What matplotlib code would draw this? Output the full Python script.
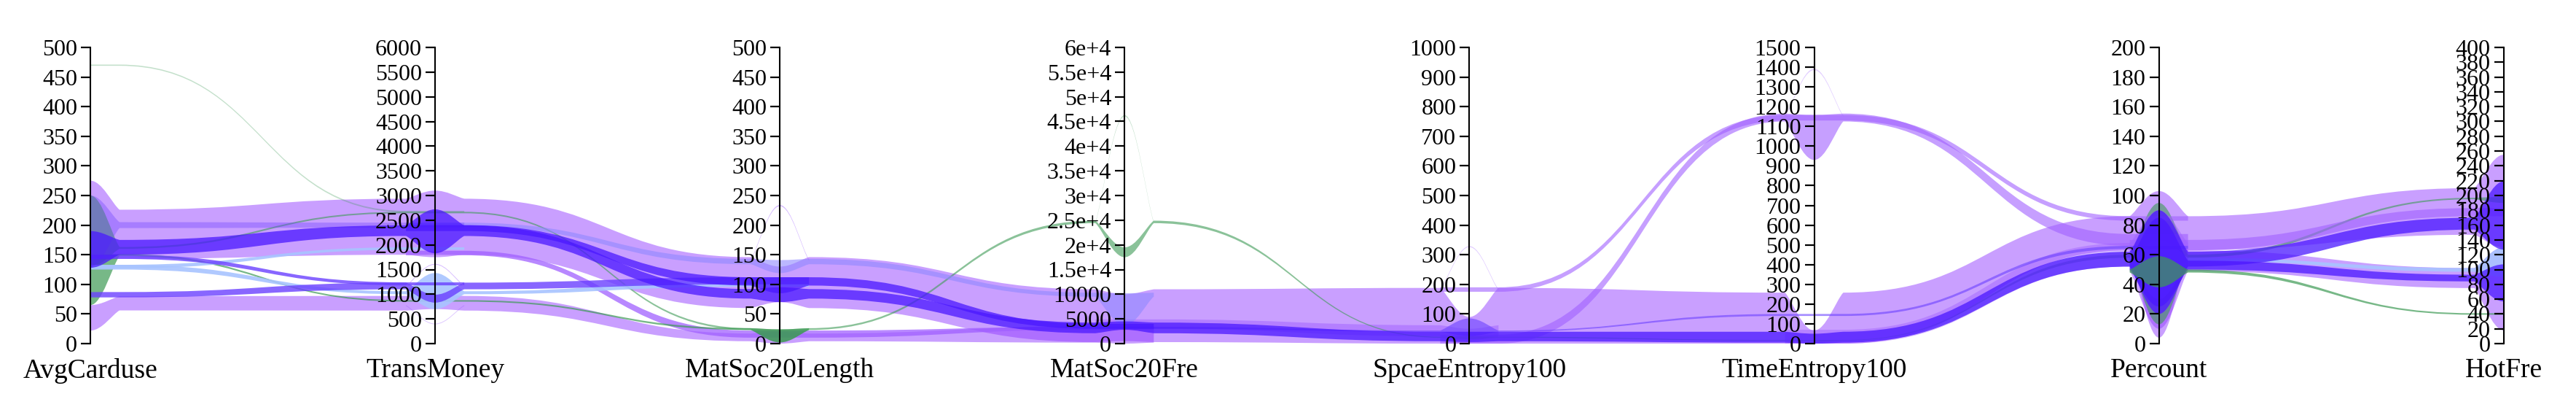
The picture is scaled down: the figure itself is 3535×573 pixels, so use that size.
import numpy as np
import matplotlib
matplotlib.use("Agg")
import matplotlib.pyplot as plt
from matplotlib.path import Path
from matplotlib.patches import PathPatch

W, H = 3535, 573
AXIS_LEFT, AXIS_STEP = 124, 473.1
AXIS_TOP, AXIS_BOTTOM = 65, 471
FLARE = 40 / 473.1  # ribbon leaves the axis glyph this far from the axis
n = np.nan

DIMENSIONS = ["AvgCarduse", "TransMoney", "MatSoc20Length", "MatSoc20Fre",
              "SpcaeEntropy100", "TimeEntropy100", "Percount", "HotFre"]
AXIS_MAX = [500, 6000, 500, 60000, 1000, 1500, 200, 400]
AXIS_TICKS = [
    list(range(0, 501, 50)),
    list(range(0, 6001, 500)),
    list(range(0, 501, 50)),
    list(range(0, 60001, 5000)),
    list(range(0, 1001, 100)),
    list(range(0, 1501, 100)),
    list(range(0, 201, 20)),
    list(range(0, 401, 20)),
]
FRE_LABELS = ["0", "5000", "10000", "1.5e+4", "2e+4", "2.5e+4", "3e+4", "3.5e+4",
              "4e+4", "4.5e+4", "5e+4", "5.5e+4", "6e+4"]

# each ribbon: flow low, flow high, glyph low, glyph high (one value per axis)
PURPLE = "#9440ff"
MID = "#a060ff"
DARK = "#4a18ff"
VIOLET = "#6a40ff"
BLUE = "#a8c4ff"
LILAC = "#8f88ff"
GREEN = "#3d9a55"

top_lo = [143, 1800, 60, 300, 0, 0, 63, 147]
top_hi = [226, 2935, 146, 11000, 188, 258, 86, 210]
top_alo = [140, 1750, 70, 500, 0, 0, 4, 130]
top_ahi = [275, 3100, 130, 10000, 90, 66, 103, 255]

split_lo = [n, n, n, n, n, n, 49, 75]
split_hi = [n, n, n, n, n, n, 63, 102]
split_alo = [n, n, n, n, n, n, 10, 18]
split_ahi = [n, n, n, n, n, n, 90, 130]

low_lo = [56, 669, 4, 200, n, n, n, n]
low_hi = [80, 966, 17, 3500, n, n, n, n]
low_alo = [22, 700, 0, 0, n, n, n, n]
low_ahi = [65, 1000, 20, 3000, n, n, n, n]

slip_lo = [n, 1790, 10, 2800, n, n, n, n]
slip_hi = [n, 1880, 22, 3400, n, n, n, n]
slip_alo = [n, 1800, 10, 2800, n, n, n, n]
slip_ahi = [n, 1880, 22, 3400, n, n, n, n]

sat_lo = [n, n, n, 3000, 25, n, n, n]
sat_hi = [n, n, n, 4900, 62, n, n, n]
sat_alo = [n, n, n, 3000, 10, n, n, n]
sat_ahi = [n, n, n, 4900, 50, n, n, n]

up1_lo = [n, n, n, n, 175, 1130, 83, n]
up1_hi = [n, n, n, n, 190, 1158, 86, n]
up1_alo = [n, n, n, n, 175, 1130, 83, n]
up1_ahi = [n, n, n, n, 190, 1158, 86, n]

up2_lo = [n, n, n, n, 0, 1125, 66, n]
up2_hi = [n, n, n, n, 30, 1165, 74, n]
up2_alo = [n, n, n, n, 0, 930, 66, n]
up2_ahi = [n, n, n, n, 30, 1158, 74, n]

rise_lo = [n, n, n, n, n, 0, 52, n]
rise_hi = [n, n, n, n, n, 70, 68, n]
rise_alo = [n, n, n, n, n, 0, 20, n]
rise_ahi = [n, n, n, n, n, 70, 90, n]

right_lo = [n, n, n, n, n, n, 63, 172]
right_hi = [n, n, n, n, n, n, 70, 183]
right_alo = [n, n, n, n, n, n, 63, 172]
right_ahi = [n, n, n, n, n, n, 70, 183]

strip_lo = [195, 2350, n, n, n, n, n, n]
strip_hi = [205, 2450, n, n, n, n, n, n]
strip_alo = [130, 2350, n, n, n, n, n, n]
strip_ahi = [250, 2450, n, n, n, n, n, n]

ga_lo = [469, 2660, n, n, n, n, n, n]
ga_hi = [471, 2690, n, n, n, n, n, n]

gd_lo = [160, 2640, 23, 24400, 20, 15, 58, 195]
gd_hi = [163, 2670, 26, 24900, 23, 18, 60, 197]
gd_alo = [130, 2640, 2, 17500, 15, 10, 13, 190]
gd_ahi = [250, 2670, 24, 19500, 25, 18, 95, 198]

gb_lo = [148, 850, 23, n, n, n, n, n]
gb_hi = [151, 880, 26, n, n, n, n, n]
gb_alo = [65, 850, 2, n, n, n, n, n]
gb_ahi = [150, 880, 24, n, n, n, n, n]

gc_lo = [n, n, n, n, n, n, 48, 39]
gc_hi = [n, n, n, n, n, n, 50, 41]
gc_alo = [n, n, n, n, n, n, 38, 39]
gc_ahi = [n, n, n, n, n, n, 59, 41]

ba_lo = [125, 1000, 96, n, n, n, n, n]
ba_hi = [133, 1060, 106, n, n, n, n, n]
ba_alo = [125, 700, 96, n, n, n, n, n]
ba_ahi = [133, 1430, 106, n, n, n, n, n]

bb_lo = [127, 1900, n, n, n, n, n, n]
bb_hi = [133, 1950, n, n, n, n, n, n]

bc_lo = [n, 2370, 134, 9500, n, n, n, n]
bc_hi = [n, 2450, 143, 10300, n, n, n, n]
bc_alo = [n, 2370, 119, 3700, n, n, n, n]
bc_ahi = [n, 2450, 141, 10200, n, n, n, n]

bd_lo = [n, n, n, 3000, 40, 140, 64, n]
bd_hi = [n, n, n, 3400, 44, 150, 66, n]
bd_alo = [n, n, n, 3000, 26, 140, 64, n]
bd_ahi = [n, n, n, 3400, 85, 150, 66, n]

be_lo = [n, n, n, n, n, n, 56, 97]
be_hi = [n, n, n, n, n, n, 58, 102]
be_alo = [n, n, n, n, n, n, 30, 90]
be_ahi = [n, n, n, n, n, n, 70, 130]

da_lo = [150, 2180, 76, 2100, 8, 5, 52, 154]
da_hi = [175, 2395, 92, 4260, 40, 60, 62, 170]
da_alo = [128, 1830, 70, 2800, 5, 0, 20, 127]
da_ahi = [190, 2720, 95, 4500, 40, 50, 90, 219]

db_lo = [n, 2280, 98, 3000, n, n, n, n]
db_hi = [n, 2400, 112, 4000, n, n, n, n]
db_alo = [n, 2280, 85, 3000, n, n, n, n]
db_ahi = [n, 2400, 112, 4000, n, n, n, n]

dc_lo = [n, n, n, n, n, n, 50, 84]
dc_hi = [n, n, n, n, n, n, 56, 93]
dc_alo = [n, n, n, n, n, n, 25, 57]
dc_ahi = [n, n, n, n, n, n, 85, 107]

dd_lo = [78, 1100, 100, n, n, n, n, n]
dd_hi = [87, 1235, 112, n, n, n, n, n]
dd_alo = [78, 830, 100, n, n, n, n, n]
dd_ahi = [87, 990, 112, n, n, n, n, n]

de_lo = [143, 1180, n, n, n, n, n, n]
de_hi = [150, 1240, n, n, n, n, n, n]

# thin spikes where one record pokes out at an axis
sp_len = ([n, n, 140, n, n, n, n, n], [n, n, 142, n, n, n, n, n], [n, n, 232, n, n, n, n, n], [n, n, 234, n, n, n, n, n])
sp_fre = ([n, n, n, 24500, n, n, n, n], [n, n, n, 24700, n, n, n, n], [n, n, n, 46000, n, n, n, n], [n, n, n, 46300, n, n, n, n])
sp_spc = ([n, n, n, n, 180, n, n, n], [n, n, n, n, 184, n, n, n], [n, n, n, n, 326, n, n, n], [n, n, n, n, 329, n, n, n])
sp_time = ([n, n, n, n, n, 1150, n, n], [n, n, n, n, n, 1156, n, n], [n, n, n, n, n, 1385, n, n], [n, n, n, n, n, 1392, n, n])
sp_tr1 = ([n, 1160, n, n, n, n, n, n], [n, 1180, n, n, n, n, n, n], [n, 1600, n, n, n, n, n, n], [n, 1615, n, n, n, n, n, n])
sp_tr2 = ([n, 760, n, n, n, n, n, n], [n, 780, n, n, n, n, n, n], [n, 390, n, n, n, n, n, n], [n, 405, n, n, n, n, n, n])

RIBBONS = [
    (top_lo, top_hi, top_alo, top_ahi, PURPLE, 0.5),
    (split_lo, split_hi, split_alo, split_ahi, PURPLE, 0.5),
    (low_lo, low_hi, low_alo, low_ahi, PURPLE, 0.5),
    (slip_lo, slip_hi, slip_alo, slip_ahi, MID, 0.75),
    (sat_lo, sat_hi, sat_alo, sat_ahi, MID, 0.5),
    (ga_lo, ga_hi, ga_lo, ga_hi, GREEN, 0.3),
    (gd_lo, gd_hi, gd_alo, gd_ahi, GREEN, 0.6),
    (gb_lo, gb_hi, gb_alo, gb_ahi, GREEN, 0.7),
    (ba_lo, ba_hi, ba_alo, ba_ahi, BLUE, 0.9),
    (bb_lo, bb_hi, bb_lo, bb_hi, BLUE, 0.9),
    (be_lo, be_hi, be_alo, be_ahi, BLUE, 0.9),
    (bc_lo, bc_hi, bc_alo, bc_ahi, LILAC, 0.6),
    (strip_lo, strip_hi, strip_alo, strip_ahi, VIOLET, 0.35),
    (up1_lo, up1_hi, up1_alo, up1_ahi, MID, 0.6),
    (up2_lo, up2_hi, up2_alo, up2_ahi, MID, 0.6),
    (rise_lo, rise_hi, rise_alo, rise_ahi, MID, 0.45),
    (right_lo, right_hi, right_alo, right_ahi, MID, 0.6),
    (bd_lo, bd_hi, bd_alo, bd_ahi, VIOLET, 0.6),
    (dd_lo, dd_hi, dd_alo, dd_ahi, VIOLET, 0.8),
    (de_lo, de_hi, de_lo, de_hi, VIOLET, 0.8),
    (da_lo, da_hi, da_alo, da_ahi, DARK, 0.75),
    (db_lo, db_hi, db_alo, db_ahi, DARK, 0.75),
    (dc_lo, dc_hi, dc_alo, dc_ahi, DARK, 0.75),
    (gc_lo, gc_hi, gc_alo, gc_ahi, GREEN, 0.7),  # sits on top of the Percount lens
    (*sp_len, MID, 0.45),
    (*sp_fre, GREEN, 0.3),
    (*sp_spc, MID, 0.35),
    (*sp_time, MID, 0.3),
    (*sp_tr1, MID, 0.45),
    (*sp_tr2, MID, 0.35),
]


def edge_knots(flow, glyph):
    """One ribbon edge as (x, y) knots: flow end, axis glyph, flow start, ..."""
    knots = []
    for i, (f, g) in enumerate(zip(flow, glyph)):
        if np.isnan(f):
            continue
        y_f, y_g = f / AXIS_MAX[i], g / AXIS_MAX[i]
        if i > 0:
            knots.append((i - FLARE, y_f))
        knots.append((i, y_g))
        if i < len(flow) - 1:
            knots.append((i + FLARE, y_f))
    return knots


def add_curves(knots, verts, codes):
    for (x0, y0), (x1, y1) in zip(knots[:-1], knots[1:]):
        if x0 == round(x0):  # leaving an axis: round lens shape
            c0 = (x0 + (x1 - x0) * 0.4, y0)
            c1 = (x0 + (x1 - x0) * 0.75, y1 + (y0 - y1) * 0.2)
        elif x1 == round(x1):  # coming into an axis
            c0 = (x1 + (x0 - x1) * 0.75, y0 + (y1 - y0) * 0.2)
            c1 = (x1 + (x0 - x1) * 0.4, y1)
        else:
            mid = (x0 + x1) / 2
            c0, c1 = (mid, y0), (mid, y1)
        verts += [c0, c1, (x1, y1)]
        codes += [Path.CURVE4] * 3


def draw_ribbon(ax, lo, hi, alo, ahi, color, alpha):
    upper = edge_knots(hi, ahi)
    lower = edge_knots(lo, alo)[::-1]
    verts, codes = [upper[0]], [Path.MOVETO]
    add_curves(upper, verts, codes)
    verts.append(lower[0])
    codes.append(Path.LINETO)
    add_curves(lower, verts, codes)
    verts.append(verts[0])
    codes.append(Path.CLOSEPOLY)
    ax.add_patch(PathPatch(Path(verts, codes), facecolor=color, edgecolor="none",
                           alpha=alpha, zorder=2))


plt.rcParams["font.family"] = ["Liberation Serif", "DejaVu Serif"]
fig = plt.figure(figsize=(W / 100, H / 100), dpi=100, facecolor="white")

ax_h = (AXIS_BOTTOM - AXIS_TOP) / H
ax_b = 1 - AXIS_BOTTOM / H
span = AXIS_STEP * 7 / W
flow_ax = fig.add_axes([AXIS_LEFT / W, ax_b, span, ax_h])
flow_ax.set_xlim(0, 7)
flow_ax.set_ylim(0, 1)
flow_ax.axis("off")
for ribbon in RIBBONS:
    draw_ribbon(flow_ax, *ribbon)

for i, (name, vmax, ticks) in enumerate(zip(DIMENSIONS, AXIS_MAX, AXIS_TICKS)):
    x = (AXIS_LEFT + i * AXIS_STEP) / W
    ax = fig.add_axes([x, ax_b, 0.00001, ax_h], facecolor="none")
    ax.set_ylim(0, vmax)
    ax.set_xticks([])
    ax.set_yticks(ticks)
    ax.set_yticklabels(FRE_LABELS if name == "MatSoc20Fre" else [str(t) for t in ticks])
    ax.tick_params(axis="y", length=9.5, width=1.6, pad=3.5, labelsize=23)
    for side in ("top", "right", "bottom"):
        ax.spines[side].set_visible(False)
    ax.spines["left"].set_linewidth(1.5)
    fig.text(x, 1 - 508 / H, name, ha="center", va="center", fontsize=27)

fig.savefig("out.png", dpi=100)
